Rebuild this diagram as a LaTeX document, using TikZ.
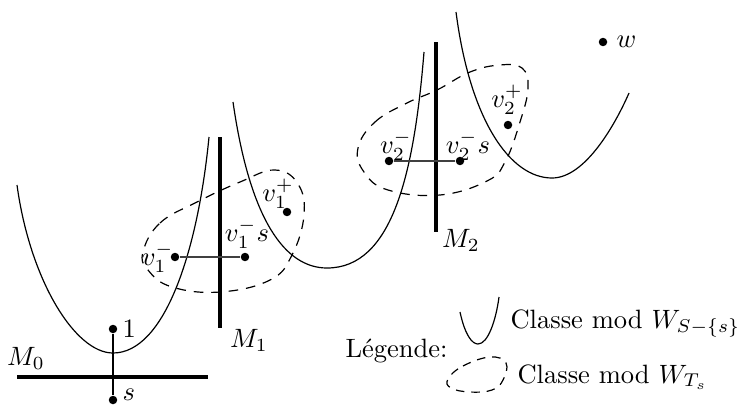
\documentclass[tikz,border=0pt]{standalone}
\begin{document}
\begin{tikzpicture}[x=0.377pt,y=-0.377pt,
  thinline/.style={line width=0.45pt},
  thickline/.style={line width=1.2pt},
  classe/.style={line width=0.45pt, dashed, dash pattern=on 3.6pt off 3pt},
  dot/.style={circle, fill=black, inner sep=0pt, minimum size=3.2pt},
  lbl/.style={inner sep=0pt},
  seg/.style={line width=0.6pt, black!75}]
\useasboundingbox (0,0) rectangle (741,406);

% hyperplanes
\coordinate (m0a) at (17,377); \coordinate (m0b) at (208,377);
\coordinate (m1a) at (220,137); \coordinate (m1b) at (220,328);
\coordinate (m2a) at (436,42);  \coordinate (m2b) at (436,232);
\draw[thickline] (m0a) -- (m0b);
\draw[thickline] (m1a) -- (m1b);
\draw[thickline] (m2a) -- (m2b);
\node[lbl] (lM0) at (26,358) {$M_0$};
\node[lbl] (lM1) at (249,340) {$M_1$};
\node[lbl] (lM2) at (461,240) {$M_2$};

% classes mod W_{S-{s}}
\draw[thinline] (17,185) .. controls (30,280) and (75,353) .. (113,353)
                         .. controls (165,353) and (198,250) .. (209,137);
\draw[thinline] (233,102) .. controls (250,220) and (285,268) .. (327,268)
                          .. controls (392,268) and (414,175) .. (424,52);
\draw[thinline] (456,12) .. controls (470,120) and (510,178) .. (552,178)
                         .. controls (585,178) and (615,125) .. (629,93);

% classes mod W_{T_s}
\draw[classe] plot[smooth cycle, tension=0.7] coordinates {(143,252) (160,223) (197,202) (240,182) (275,170) (298,184) (304,215) (292,255) (270,280) (220,292) (172,287) (148,270)};
\draw[classe] plot[smooth cycle, tension=0.7] coordinates {(358,148) (375,122) (407,103) (437,90) (470,72) (500,65) (522,68) (528,88) (520,122) (505,162) (487,181) (440,195) (388,190) (364,172)};

% points
\node[dot] (one) at (113,329) {};
\node[dot] (s) at (113,400) {};
\draw[thinline] (one) -- (s);
\node[lbl, anchor=west] (l1) at (122,329) {$1$};
\node[lbl, anchor=base west] (ls) at (122,400) {$s$};

\node[dot] (v1m) at (175,257) {};
\node[dot] (v1ms) at (245,257) {};
\node[dot] (v1p) at (287,212) {};
\draw[seg] (v1m) -- (v1ms);
\node[lbl, anchor=east] (lv1m) at (174,258) {$v_1^-$};
\node[lbl] (lv1ms) at (247,234) {$v_1^-s$};
\node[lbl] (lv1p) at (278,194) {$v_1^+$};

\node[dot] (v2m) at (389,161) {};
\node[dot] (v2ms) at (460,161) {};
\node[dot] (v2p) at (508,125) {};
\draw[seg] (v2m) -- (v2ms);
\node[lbl] (lv2m) at (396,146) {$v_2^-$};
\node[lbl] (lv2ms) at (468,146) {$v_2^-s$};
\node[lbl] (lv2p) at (507,100) {$v_2^+$};

\node[dot] (w) at (603,42) {};
\node[lbl, anchor=west] (lw) at (616,42) {$w$};

% legend
\node[lbl, anchor=base west] (leg) at (345,357) {L\'egende:};
\draw[thinline] (460,312) .. controls (465,335) and (472,344) .. (478,344)
                          .. controls (488,344) and (496,320) .. (499,297);
\node[lbl, anchor=base west] (c1) at (510,328) {Classe mod $W_{S-\{s\}}$};
\draw[classe, dash pattern=on 3.2pt off 2.6pt] plot[smooth cycle, tension=0.7] coordinates {(448,379) (463,366) (490,357) (506,363) (503,380) (492,390) (470,392) (451,388)};
\node[lbl, anchor=base west] (c2) at (517,383) {Classe mod $W_{T_s}$};
\end{tikzpicture}
\end{document}
